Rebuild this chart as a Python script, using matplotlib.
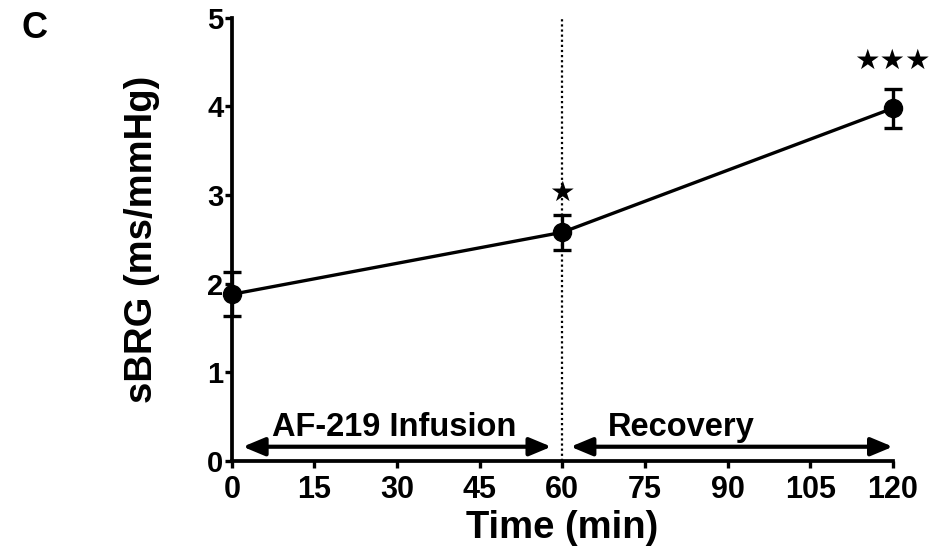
import matplotlib
matplotlib.use('Agg')
import matplotlib.pyplot as plt

# data
time_min = [0, 60, 120]
sbrg = [1.88, 2.58, 3.98]
sbrg_err = [0.25, 0.20, 0.22]
sig_labels = ['', '★', '★★★']
sig_y = [None, 3.02, 4.52]
x_ticks = [0, 15, 30, 45, 60, 75, 90, 105, 120]
y_ticks = [0, 1, 2, 3, 4, 5]
phases = [('AF-219 Infusion', 2, 58), ('Recovery', 61.5, 120)]
phase_text_x = [29.5, 81.5]

plt.rcParams['font.family'] = ['Liberation Sans', 'DejaVu Sans']
plt.rcParams['font.weight'] = 'bold'

fig = plt.figure(figsize=(9.31, 5.58), dpi=100)
ax = fig.add_axes([0.249, 0.174, 0.71, 0.794])

ax.errorbar(time_min, sbrg, yerr=sbrg_err, color='black', lw=2.4,
            marker='o', markersize=13, capsize=6.2, capthick=2.4,
            elinewidth=2.4, clip_on=False, zorder=5)

ax.axvline(60, ymin=0, ymax=1, color='black', ls=(0, (1, 1.3)), lw=1.6, zorder=1)

for t, lab, y in zip(time_min, sig_labels, sig_y):
    if lab:
        ax.text(t, y, lab, ha='center', va='center', fontsize=20.5,
                family=['DejaVu Sans'])

for (name, x0, x1), tx in zip(phases, phase_text_x):
    ax.annotate('', xy=(x1, 0.16), xytext=(x0, 0.16),
                arrowprops=dict(arrowstyle='<|-|>,head_length=0.6,head_width=0.25',
                                color='black', lw=3, mutation_scale=22,
                                shrinkA=0, shrinkB=0))
    ax.text(tx, 0.38, name, ha='center', va='center', fontsize=23.5, fontweight='bold')

ax.set_xlim(0, 120)
ax.set_ylim(0, 5)
ax.set_xticks(x_ticks)
ax.set_yticks(y_ticks)
ax.tick_params(width=2.4, length=5)
ax.tick_params(axis='x', labelsize=22, pad=5)
ax.tick_params(axis='y', labelsize=21, pad=1)
for lbl in ax.get_xticklabels() + ax.get_yticklabels():
    lbl.set_fontweight('bold')

for s in ['top', 'right']:
    ax.spines[s].set_visible(False)
for s in ['left', 'bottom']:
    ax.spines[s].set_linewidth(2.7)

ax.set_xlabel('Time (min)', fontsize=27.5, fontweight='bold', labelpad=4)
ax.set_ylabel('sBRG (ms/mmHg)', fontsize=27.5, fontweight='bold', labelpad=34)

fig.text(0.023, 0.932, 'C', fontsize=26, fontweight='bold', va='baseline', ha='left')

fig.savefig('out.png', dpi=100)
plt.close(fig)
